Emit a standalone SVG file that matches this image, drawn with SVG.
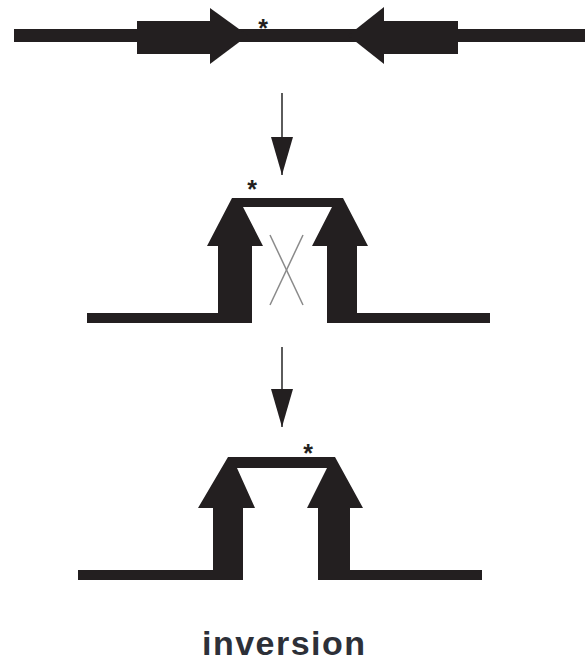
<svg xmlns="http://www.w3.org/2000/svg" width="585" height="666" viewBox="0 0 585 666">
  <defs>
    <style>
      .dna { fill: #231f20; stroke: none; }
      .star { font-family: "Liberation Sans", Arial, sans-serif; font-weight: bold; font-size: 25px; fill: #231f20; text-anchor: middle; }
      .conn { stroke: #333; stroke-width: 1.6; fill: none; }
      .cross { stroke: #8a8a8a; stroke-width: 1.5; fill: none; }
      .label { font-family: "Liberation Sans", Arial, sans-serif; font-weight: bold; font-size: 34px; fill: #2d3038; text-anchor: middle; }
    </style>
    <marker id="arrowhead" markerUnits="userSpaceOnUse" markerWidth="40" markerHeight="24" refX="38" refY="11" orient="auto" viewBox="0 0 40 24">
      <polygon points="0,0 38,11 0,22" fill="#231f20"/>
    </marker>
  </defs>
  <rect width="585" height="666" fill="#ffffff"/>

  <g id="top-chromosome">
    <rect class="dna" x="14" y="29" width="571" height="13"/>
    <rect class="dna" x="137" y="21" width="75" height="33"/>
    <polygon class="dna" points="210,8 248,35.5 210,64"/>
    <polygon class="dna" points="384,7 348,35.5 384,64"/>
    <rect class="dna" x="383" y="21" width="75" height="33"/>
    <text class="star" x="263" y="37">*</text>
  </g>

  <g id="middle-loop">
    <rect class="dna" x="87" y="313" width="165" height="10"/>
    <rect class="dna" x="218" y="246" width="34" height="77"/>
    <rect class="dna" x="327" y="246" width="30" height="77"/>
    <rect class="dna" x="327" y="313" width="163" height="10"/>
    <polygon class="dna" points="207,246 232,198 343,198 368,246 312,246 332,207 243,207 263,246"/>
    <line class="cross" x1="270" y1="235" x2="303" y2="305"/>
    <line class="cross" x1="303" y1="235" x2="270" y2="305"/>
    <text class="star" x="252" y="198">*</text>
  </g>

  <g id="bottom-loop">
    <rect class="dna" x="78" y="570" width="165" height="10"/>
    <rect class="dna" x="213" y="508" width="30" height="72"/>
    <rect class="dna" x="318" y="508" width="32" height="72"/>
    <rect class="dna" x="318" y="570" width="164" height="10"/>
    <polygon class="dna" points="198,508 228,457 335,457 363,508 307,508 327,468 237,468 255,508"/>
    <text class="star" x="308" y="462">*</text>
  </g>

  <g id="connectors">
    <line class="conn" x1="282" y1="93" x2="282" y2="175" marker-end="url(#arrowhead)"/>
    <line class="conn" x1="282" y1="347" x2="282" y2="427" marker-end="url(#arrowhead)"/>
  </g>

  <g id="label">
    <text class="label" x="283.5" y="655" textLength="163" lengthAdjust="spacing">inversion</text>
  </g>
</svg>
